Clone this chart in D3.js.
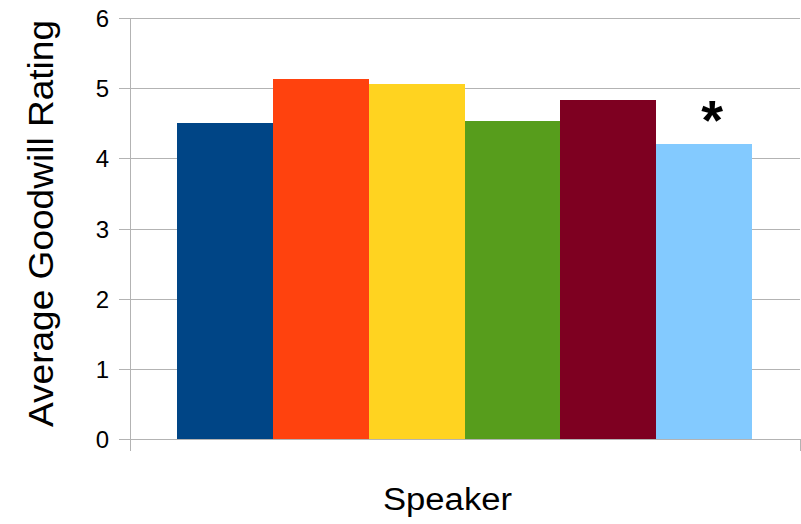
<!DOCTYPE html>
<html><head><meta charset="utf-8">
<script src="https://cdn.jsdelivr.net/npm/d3@7"></script>
<style>body{margin:0;background:#fff}svg{display:block}</style>
</head><body>
<svg id="c" width="801" height="524"></svg>
<script>
const speakers = ["S1","S2","S3","S4","S5","S6"];
const ratings = [4.51, 5.13, 5.06, 4.53, 4.83, 4.21];
const colors = ["#004586","#ff420e","#ffd320","#579d1c","#7e0021","#83caff"];
const yTicks = [0,1,2,3,4,5,6];
const marks = ["","","","","","*"];
const yTitle = "Average Goodwill Rating";
const xTitle = "Speaker";

const svg = d3.select("#c");
const L = 130, R = 800, T = 18, B = 439;
const font = "'Liberation Sans', Arial, sans-serif";
const y = d3.scaleLinear().domain([0,6]).range([B,T]);
const x = d3.scaleBand().domain(speakers).range([L+47, R-48]).padding(0);
const grid = "#b3b3b3";

// grid lines + ticks
const yAxis = d3.axisLeft(y).tickValues(yTicks).tickSize(-(R-L)).tickPadding(10).tickFormat(d3.format("d"));
const gy = svg.append("g").attr("transform",`translate(${L},0)`).call(yAxis);
gy.select(".domain").remove();
gy.selectAll(".tick line").attr("stroke",grid).attr("x1",-11).attr("stroke-width",1).attr("shape-rendering","crispEdges");
gy.selectAll(".tick text").attr("font-family",font).attr("font-size",24).attr("fill","#000").attr("x",-21).attr("dy","0.36em");

// axis lines
svg.append("line").attr("x1",L).attr("x2",L).attr("y1",T).attr("y2",B+12).attr("stroke",grid).attr("shape-rendering","crispEdges");
svg.append("line").attr("x1",R).attr("x2",R).attr("y1",B).attr("y2",B+12).attr("stroke",grid).attr("shape-rendering","crispEdges");

// bars
svg.append("g").selectAll("rect").data(speakers).join("rect")
  .attr("x",d=>x(d)).attr("width",x.bandwidth())
  .attr("y",(d,i)=>y(ratings[i])).attr("height",(d,i)=>B-y(ratings[i]))
  .attr("fill",(d,i)=>colors[i]).attr("shape-rendering","crispEdges");

// redraw baseline on top
svg.append("line").attr("x1",L-11).attr("x2",R).attr("y1",B).attr("y2",B).attr("stroke",grid).attr("shape-rendering","crispEdges");

// significance marks
svg.append("g").selectAll("text").data(speakers).join("text")
  .attr("x",d=>x(d)+x.bandwidth()/2+8).attr("y",(d,i)=>y(ratings[i])-5)
  .attr("text-anchor","middle").attr("font-family",font).attr("font-weight","bold")
  .attr("font-size",56).text((d,i)=>marks[i]);

// titles
svg.append("text").attr("transform","translate(53,427) rotate(-90)")
  .attr("font-family",font).attr("font-size",35).attr("textLength",407).attr("lengthAdjust","spacingAndGlyphs")
  .text(yTitle);
svg.append("text").attr("x",383).attr("y",510)
  .attr("font-family",font).attr("font-size",31).attr("textLength",129).attr("lengthAdjust","spacingAndGlyphs")
  .text(xTitle);
</script>
</body></html>
